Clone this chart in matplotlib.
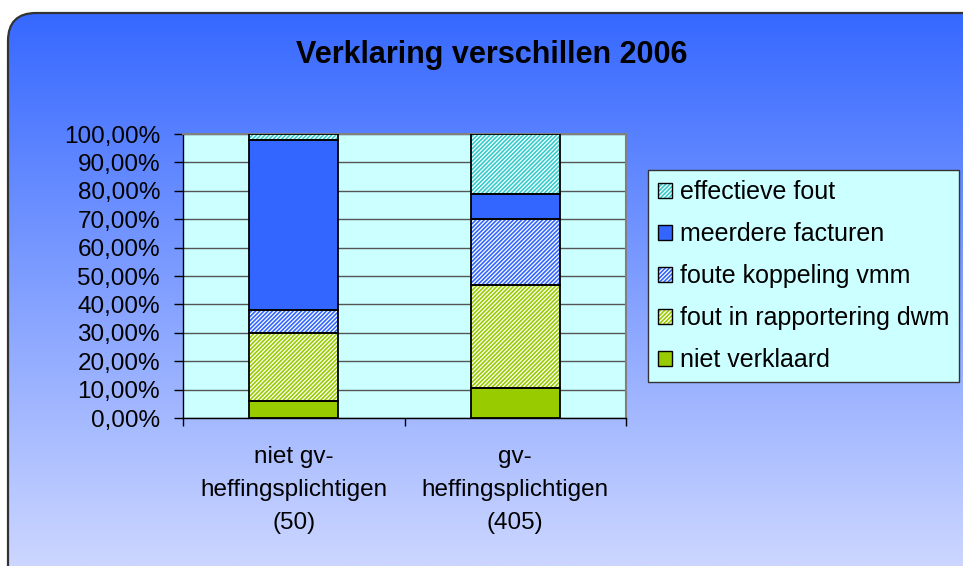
import numpy as np
import matplotlib
matplotlib.use("Agg")
import matplotlib.pyplot as plt
from matplotlib.patches import FancyBboxPatch, Patch
from matplotlib.ticker import FuncFormatter, FixedLocator

plt.rcParams['font.family'] = ['Liberation Sans', 'DejaVu Sans']
plt.rcParams['hatch.linewidth'] = 1.2

# data (percentages, bottom to top)
categories = ["niet gv-\nheffingsplichtigen\n(50)", "gv-\nheffingsplichtigen\n(405)"]
series_names = ["niet verklaard", "fout in rapportering dwm", "foute koppeling vmm",
                "meerdere facturen", "effectieve fout"]
niet_verklaard = [6.0, 10.4]
fout_rapportering = [24.0, 36.6]
foute_koppeling = [8.0, 23.2]
meerdere_facturen = [60.0, 8.5]
effectieve_fout = [2.0, 21.3]
yticks = [0, 10, 20, 30, 40, 50, 60, 70, 80, 90, 100]

series_vals = [niet_verklaard, fout_rapportering, foute_koppeling, meerdere_facturen, effectieve_fout]
colors = ["#99CC00", "#99CC00", "#3366FF", "#3366FF", "#33CCCC"]
stripe = "////////"
hatches = [None, stripe, stripe, None, stripe]

W, H = 963, 566
fig = plt.figure(figsize=(W / 100, H / 100), dpi=100)
fig.patch.set_facecolor("white")

# gradient background with rounded border
bg = fig.add_axes([0, 0, 1, 1], zorder=-10)
bg.set_xlim(0, W)
bg.set_ylim(H, 0)
bg.axis("off")
top = np.array([0x33, 0x66, 0xFF]) / 255
bot = np.array([0xCC, 0xD6, 0xFF]) / 255
t = np.linspace(0, 1, 256)[:, None]
grad = (top[None, :] * (1 - t) + bot[None, :] * t)[:, None, :]
img = bg.imshow(grad, extent=(0, W, H, 0), aspect="auto", interpolation="bilinear")
frame = FancyBboxPatch((8, 13), 1000, 600, boxstyle="round,pad=0,rounding_size=28",
                       facecolor="none", edgecolor="#333333", linewidth=1.6)
bg.add_patch(frame)
img.set_clip_path(frame)

ax = fig.add_axes([183 / W, 1 - 418 / H, 443 / W, 284 / H])
ax.set_facecolor("#CCFFFF")
x = np.arange(len(categories))
width = 0.4
bottom = np.zeros(len(categories))
handles = []
for name, vals, c, h in zip(series_names, series_vals, colors, hatches):
    vals = np.array(vals)
    if h:
        ax.bar(x, vals, width, bottom=bottom, facecolor="white", edgecolor=c,
               hatch=h, linewidth=0, zorder=3)
        fill = Patch(facecolor="white", edgecolor=c, hatch=h, linewidth=0)
    else:
        ax.bar(x, vals, width, bottom=bottom, color=c, linewidth=0, zorder=3)
        fill = Patch(facecolor=c, linewidth=0)
    ax.bar(x, vals, width, bottom=bottom, fill=False, edgecolor="black",
           linewidth=1.3, zorder=4)
    handles.append((fill, Patch(facecolor="none", edgecolor="black", linewidth=1.0)))
    bottom += vals

ax.set_xlim(-0.5, 1.5)
ax.set_ylim(0, 100)
ax.set_yticks(yticks)
ax.yaxis.set_major_formatter(FuncFormatter(lambda v, p: f"{v:.2f}".replace(".", ",") + "%"))
ax.grid(axis="y", color="#555555", linewidth=1.0, zorder=1)
ax.set_axisbelow(True)
ax.tick_params(axis="y", direction="out", length=6.5, width=1, pad=10, labelsize=17.5)
ax.set_xticks(x)
ax.set_xticklabels(categories, fontsize=17.5, linespacing=1.65)
ax.tick_params(axis="x", which="major", length=0, pad=20)
ax.xaxis.set_minor_locator(FixedLocator([-0.5, 0.5, 1.5]))
ax.tick_params(axis="x", which="minor", direction="out", length=6, width=1)
for s in ["left", "bottom"]:
    ax.spines[s].set_color("black")
    ax.spines[s].set_linewidth(1.0)
for s in ["top", "right"]:
    ax.spines[s].set_color("#808080")
    ax.spines[s].set_linewidth(1.5)

fig.text(492 / W, 1 - 55 / H, "Verklaring verschillen 2006", ha="center", va="center",
         fontsize=22, fontweight="bold")

leg = fig.legend(handles[::-1], series_names[::-1], loc="upper left",
                 bbox_to_anchor=(648 / W, 1 - 170 / H), fontsize=18,
                 handlelength=0.56, handleheight=0.56, handletextpad=0.32,
                 labelspacing=0.72, borderpad=0.4, borderaxespad=0,
                 fancybox=False, framealpha=1, facecolor="#CCFFFF", edgecolor="#333333")
leg.get_frame().set_linewidth(1.0)

fig.savefig("out.png", dpi=100)
